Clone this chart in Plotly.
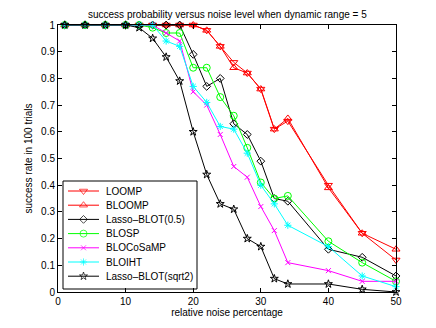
import plotly.graph_objects as go

# relative noise percentage
noise = [1, 4, 7, 10, 12, 14, 16, 18, 20, 22, 24, 26, 28, 30, 32, 34, 40, 45, 50]

# success rate in 100 trials for each method
loomp = [1, 1, 1, 1, 1, 1, 1, 1, 1, 0.98, 0.92, 0.86, 0.82, 0.76, 0.61, 0.64, 0.40, 0.22, 0.12]
bloomp = [1, 1, 1, 1, 1, 1, 1, 1, 1, 0.98, 0.92, 0.84, 0.82, 0.76, 0.61, 0.65, 0.39, 0.22, 0.16]
lasso_05 = [1, 1, 1, 1, 1, 1, 1, 1, 0.89, 0.77, 0.80, 0.63, 0.59, 0.49, 0.35, 0.34, 0.16, 0.13, 0.06]
blosp = [1, 1, 1, 1, 1, 0.99, 0.97, 0.97, 0.84, 0.84, 0.73, 0.66, 0.54, 0.41, 0.35, 0.36, 0.19, 0.11, 0.04]
blocosamp = [1, 1, 1, 1, 1, 1, 0.97, 0.94, 0.75, 0.70, 0.59, 0.47, 0.43, 0.32, 0.23, 0.11, 0.08, 0.04, 0.04]
bloiht = [1, 1, 1, 1, 1, 1, 0.94, 0.92, 0.77, 0.71, 0.62, 0.61, 0.52, 0.40, 0.33, 0.25, 0.17, 0.06, 0.02]
lasso_sqrt2 = [1, 1, 1, 1, 0.99, 0.95, 0.88, 0.79, 0.60, 0.44, 0.33, 0.31, 0.20, 0.17, 0.05, 0.03, 0.03, 0.01, 0.0]

names = ['LOOMP', 'BLOOMP', 'Lasso–BLOT(0.5)', 'BLOSP', 'BLOCoSaMP', 'BLOIHT', 'Lasso–BLOT(sqrt2)']
series = [loomp, bloomp, lasso_05, blosp, blocosamp, bloiht, lasso_sqrt2]
colors = ['#ff0000', '#ff0000', '#000000', '#00ff00', '#ff00ff', '#00ffff', '#000000']
symbols = ['triangle-down-open', 'triangle-up-open', 'diamond-open', 'circle-open',
           'x-thin-open', 'asterisk-open', 'star-open']
sizes = [7, 7, 6, 7, 5, 6, 6]

x_ticks = [0, 10, 20, 30, 40, 50]
y_ticks = [0, 0.1, 0.2, 0.3, 0.4, 0.5, 0.6, 0.7, 0.8, 0.9, 1]
y_labels = ['0', '0.1', '0.2', '0.3', '0.4', '0.5', '0.6', '0.7', '0.8', '0.9', '1']

FONT = 'Liberation Sans, Arial, sans-serif'
W_PLOT, H_PLOT = 338, 267  # plot area in px, used by the legend overlay axes

fig = go.Figure()

for name, ys, c, s, sz in zip(names, series, colors, symbols, sizes):
    fig.add_trace(go.Scatter(x=noise, y=ys, mode='lines+markers', name=name,
                             line=dict(color=c, width=1),
                             marker=dict(symbol=s, size=sz, color=c, line=dict(width=1, color=c)),
                             cliponaxis=False, showlegend=False))

# hand made legend (matlab style) on an overlay axis measured in plot pixels
box_x = [5, 139, 139, 5, 5]
box_y = [156, 156, 264, 264, 156]
fig.add_trace(go.Scatter(x=box_x, y=box_y, xaxis='x2', yaxis='y2', mode='lines',
                         fill='toself', fillcolor='white', line=dict(color='black', width=1),
                         showlegend=False, hoverinfo='skip'))
row0, row_gap = 166, 14.2
for i, (name, c, s, sz) in enumerate(zip(names, colors, symbols, sizes)):
    yy = row0 + i * row_gap
    fig.add_trace(go.Scatter(x=[10, 25.5, 41], y=[yy, yy, yy], xaxis='x2', yaxis='y2',
                             mode='lines+markers', line=dict(color=c, width=1),
                             marker=dict(symbol=s, size=[0, sz, 0], color=c, line=dict(width=1, color=c)),
                             showlegend=False, hoverinfo='skip'))
    fig.add_annotation(x=46, y=yy, xref='x2', yref='y2', text=name, showarrow=False,
                       xanchor='left', yanchor='middle', font=dict(size=10, color='black', family=FONT))

# title, placed just above the axes box
fig.add_annotation(x=0.5, y=1, xref='paper', yref='paper', xanchor='center', yanchor='bottom',
                   yshift=3, showarrow=False,
                   text='success probability versus noise level when dynamic range = 5',
                   font=dict(size=10, color='black', family=FONT))

axis_style = dict(showline=True, linecolor='black', linewidth=1, mirror='ticks', ticks='inside',
                  ticklen=4, tickcolor='black', showgrid=False, zeroline=False, automargin=False,
                  tickfont=dict(size=10, color='black', family=FONT))

fig.update_layout(
    template='none',
    width=436, height=328,
    margin=dict(l=50, r=48, t=17, b=44),
    paper_bgcolor='white', plot_bgcolor='white',
    font=dict(family=FONT, size=10, color='black'),
    xaxis=dict(range=[0, 50], tickvals=x_ticks,
               title=dict(text='relative noise percentage', standoff=2, font=dict(size=10)), **axis_style),
    yaxis=dict(range=[0, 1], tickvals=y_ticks, ticktext=y_labels,
               title=dict(text='success rate in 100 trials', standoff=6, font=dict(size=10)), **axis_style),
    xaxis2=dict(overlaying='x', range=[0, W_PLOT], visible=False, anchor='y2'),
    yaxis2=dict(overlaying='y', range=[H_PLOT, 0], visible=False, anchor='x2'),
)

fig.write_html("out.html")
